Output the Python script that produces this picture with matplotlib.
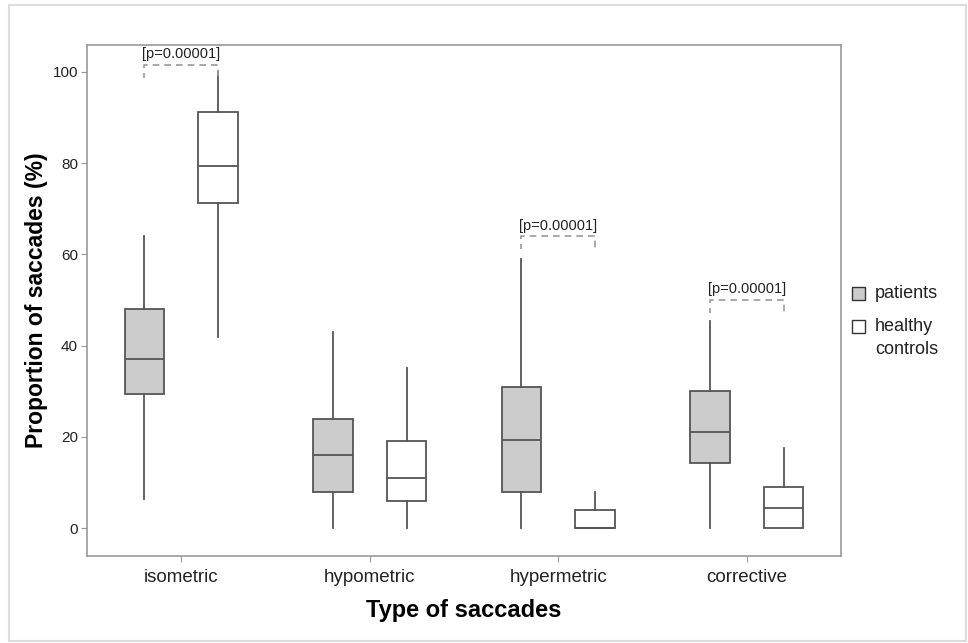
import matplotlib
matplotlib.use("Agg")
import matplotlib.pyplot as plt
from matplotlib.patches import Rectangle

plt.rcParams['font.family'] = ['Liberation Sans', 'DejaVu Sans']

# data
categories = ['isometric', 'hypometric', 'hypermetric', 'corrective']
groups = ['patients', 'healthy\ncontrols']

# whisker low, Q1, median, Q3, whisker high
patients_low = [6.5, 0, 0, 0]
patients_q1 = [29.5, 8, 8, 14.2]
patients_med = [37, 16, 19.3, 21]
patients_q3 = [48, 24, 31, 30]
patients_high = [64, 43, 59, 45.5]

controls_low = [42, 0, 0, 0]
controls_q1 = [71.3, 6, 0, 0]
controls_med = [79.3, 11, 0, 4.5]
controls_q3 = [91.3, 19, 4, 9]
controls_high = [100, 35, 8, 17.5]

# significance brackets: category index, bracket height, p label
sig_cats = [0, 2, 3]
sig_heights = [101.5, 64, 50]
sig_labels = ['[p=0.00001]', '[p=0.00001]', '[p=0.00001]']


def make_stats(low, q1, med, q3, high):
    return [dict(whislo=a, q1=b, med=c, q3=d, whishi=e, fliers=[])
            for a, b, c, d, e in zip(low, q1, med, q3, high)]


fig = plt.figure(figsize=(9.68, 6.43), dpi=100)
ax = fig.add_axes([87 / 968, 87 / 643, (841 - 87) / 968, (556 - 45) / 643])

edge = '#555555'
offset = 0.196
width = 0.21
pos = list(range(len(categories)))

for stats, shift, face in [
        (make_stats(patients_low, patients_q1, patients_med, patients_q3, patients_high), -offset, '#cccccc'),
        (make_stats(controls_low, controls_q1, controls_med, controls_q3, controls_high), offset, 'white')]:
    ax.bxp(stats, positions=[p + shift for p in pos], widths=width,
           showcaps=False, showfliers=False, patch_artist=True,
           boxprops=dict(facecolor=face, edgecolor=edge, linewidth=1.3),
           medianprops=dict(color=edge, linewidth=1.3),
           whiskerprops=dict(color=edge, linewidth=1.3))

# dashed brackets with p values
for c, h, lab in zip(sig_cats, sig_heights, sig_labels):
    x0, x1 = c - offset, c + offset
    ax.plot([x0, x0, x1, x1], [h - 2.8, h, h, h - 2.8], ls=(1, (4, 3)),
            color='#999999', lw=1.2)
    ax.text(c, h + 0.8, lab, ha='center', va='bottom', fontsize=10.5, color='#222222')

ax.set_xlim(-0.5, 3.5)
ax.set_ylim(-6.1, 105.9)
ax.set_xticks(pos)
ax.set_xticklabels(categories, fontsize=13.5, color='#222222')
ax.set_yticks([0, 20, 40, 60, 80, 100])
ax.tick_params(axis='y', labelsize=11, colors='#999999', labelcolor='#222222', length=4.5, pad=2)
ax.tick_params(axis='x', colors='#999999', labelcolor='#222222', length=4.5, pad=5)
for s in ax.spines.values():
    s.set_color('#999999')
    s.set_linewidth(1.2)

ax.set_xlabel('Type of saccades', fontsize=17, fontweight='bold')
ax.set_ylabel('Proportion of saccades (%)', fontsize=16.5, fontweight='bold')
ax.xaxis.set_label_coords(0.5, -0.085)
ax.yaxis.set_label_coords(-0.052, 0.5)

# legend drawn beside the axes
leg_colors = ['#cccccc', 'white']
leg_y = [293, 326]
for col, y, lab in zip(leg_colors, leg_y, groups):
    fig.patches.append(Rectangle((852 / 968, (643 - y - 7) / 643), 13 / 968, 13 / 643,
                                 transform=fig.transFigure, facecolor=col,
                                 edgecolor='#333333', lw=1.0))
    fig.text(875 / 968, (643 - y) / 643 + 0.012, lab, fontsize=13, va='top',
             ha='left', color='#222222', linespacing=1.45)

# light frame around the whole picture
fig.patches.append(Rectangle((9 / 968, 2 / 643), 957 / 968, 636 / 643,
                             transform=fig.transFigure, fill=False,
                             edgecolor='#dddddd', lw=1.5))

fig.savefig('out.png', dpi=100)
